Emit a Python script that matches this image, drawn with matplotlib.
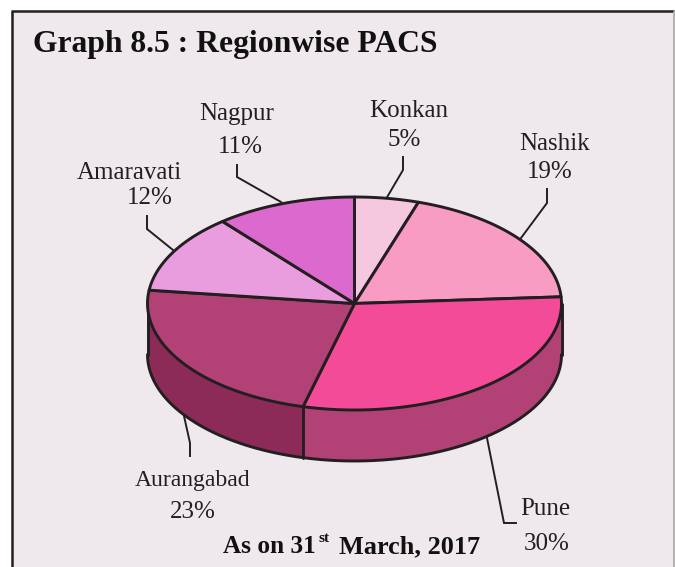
import numpy as np
import matplotlib
matplotlib.use("Agg")
import matplotlib.pyplot as plt
from matplotlib.patches import Polygon, Rectangle

regions = ["Konkan", "Nashik", "Pune", "Aurangabad", "Amaravati", "Nagpur"]
shares = [5, 19, 30, 23, 12, 11]
top_colors = ["#F5C8DF", "#F89CC4", "#F44B99", "#B24175", "#E99DDE", "#DC69CD"]
side_colors = {"Pune": "#B24175", "Aurangabad": "#8C2B58"}
title = "Graph 8.5 : Regionwise PACS"

W, H = 675, 567
cx, cy, a, b, depth = 354.5, 303.5, 207, 106.5, 51
BG = "#EFE9ED"
INK = "#231F20"

plt.rcParams["font.family"] = ["Liberation Serif", "DejaVu Serif"]
fig = plt.figure(figsize=(W / 100, H / 100), dpi=100, facecolor="white")
ax = fig.add_axes([0, 0, 1, 1])
ax.set_xlim(0, W)
ax.set_ylim(H, 0)
ax.axis("off")

# page panel
ax.add_patch(Rectangle((12, 11), 662, 570, fc=BG, ec="none", zorder=0))
ax.plot([12, 12], [H, 11], color=INK, lw=1.8, zorder=1, solid_capstyle="butt")
ax.plot([11, 674], [11, 11], color=INK, lw=1.8, zorder=1, solid_capstyle="butt")
ax.plot([674, 674], [11, H], color="#A8A4A6", lw=1.2, zorder=1, solid_capstyle="butt")


def ell(t, dy=0.0):
    t = np.asarray(t, dtype=float)
    return np.column_stack([cx + a * np.sin(t), cy - b * np.cos(t) + dy])


edges = np.cumsum([0] + shares) / sum(shares) * 2 * np.pi
LW = 2.1

# side wall: only the front half of the rim
for i, reg in enumerate(regions):
    if reg not in side_colors:
        continue
    t0 = max(edges[i], np.pi / 2)
    t1 = min(edges[i + 1], 3 * np.pi / 2)
    t = np.linspace(t0, t1, 150)
    pts = np.vstack([ell(t), ell(t[::-1], depth)])
    ax.add_patch(Polygon(pts, closed=True, fc=side_colors[reg], ec="none", zorder=2))

# wall outline
t = np.linspace(np.pi / 2, 3 * np.pi / 2, 300)
bot = ell(t, depth)
ax.plot(bot[:, 0], bot[:, 1], color=INK, lw=LW, zorder=3, solid_capstyle="round")
for tt in (np.pi / 2, 3 * np.pi / 2, edges[3]):
    p = ell([tt, tt])
    ax.plot(p[:, 0], p[:, 1] + np.array([0, depth]), color=INK, lw=LW, zorder=3,
            solid_capstyle="round")

# top face
for i, reg in enumerate(regions):
    t = np.linspace(edges[i], edges[i + 1], 120)
    pts = np.vstack([[cx, cy], ell(t)])
    ax.add_patch(Polygon(pts, closed=True, fc=top_colors[i], ec=INK, lw=LW,
                         joinstyle="round", zorder=4))

# leader lines
leaders = {
    "Konkan": [(386, 199), (403, 170), (403, 157)],
    "Nashik": [(521, 238), (547, 203), (547, 189)],
    "Pune": [(487, 438), (504, 523), (516, 523)],
    "Aurangabad": [(184, 416), (190, 443), (190, 456)],
    "Amaravati": [(173, 250), (147, 229), (147, 216)],
    "Nagpur": [(281, 202), (237, 177), (237, 165)],
}
for pts in leaders.values():
    xs, ys = zip(*pts)
    ax.plot(xs, ys, color=INK, lw=1.4, zorder=1.5, solid_joinstyle="miter")

# labels: centre x, baseline y of name and of percentage
labels = {
    "Konkan": ((409, 117), (404.5, 146)),
    "Nashik": ((554.5, 150), (550, 178)),
    "Pune": ((545, 515), (547, 550)),
    "Aurangabad": ((193, 486), (193, 518)),
    "Amaravati": ((129, 179), (150, 204)),
    "Nagpur": ((237, 120), (240, 153)),
}
name_size = {"Aurangabad": 17}
for reg, val in zip(regions, shares):
    (nx, ny), (px, py) = labels[reg]
    ax.text(nx, ny, reg, ha="center", va="baseline", fontsize=name_size.get(reg, 18), color=INK)
    ax.text(px, py, f"{val}%", ha="center", va="baseline", fontsize=18, color=INK)

ink = "#111111"
ax.text(33, 52, title, ha="left", va="baseline", fontsize=22.8, fontweight="bold", color=ink)
ax.text(223, 553, "As on 31", ha="left", va="baseline", fontsize=18.2, fontweight="bold", color=ink)
ax.text(318.5, 542, "st", ha="left", va="baseline", fontsize=11, fontweight="bold", color=ink)
ax.text(339, 553, "March, 2017", ha="left", va="baseline", fontsize=18.9, fontweight="bold", color=ink)

fig.savefig("out.png", dpi=100, facecolor="white")
